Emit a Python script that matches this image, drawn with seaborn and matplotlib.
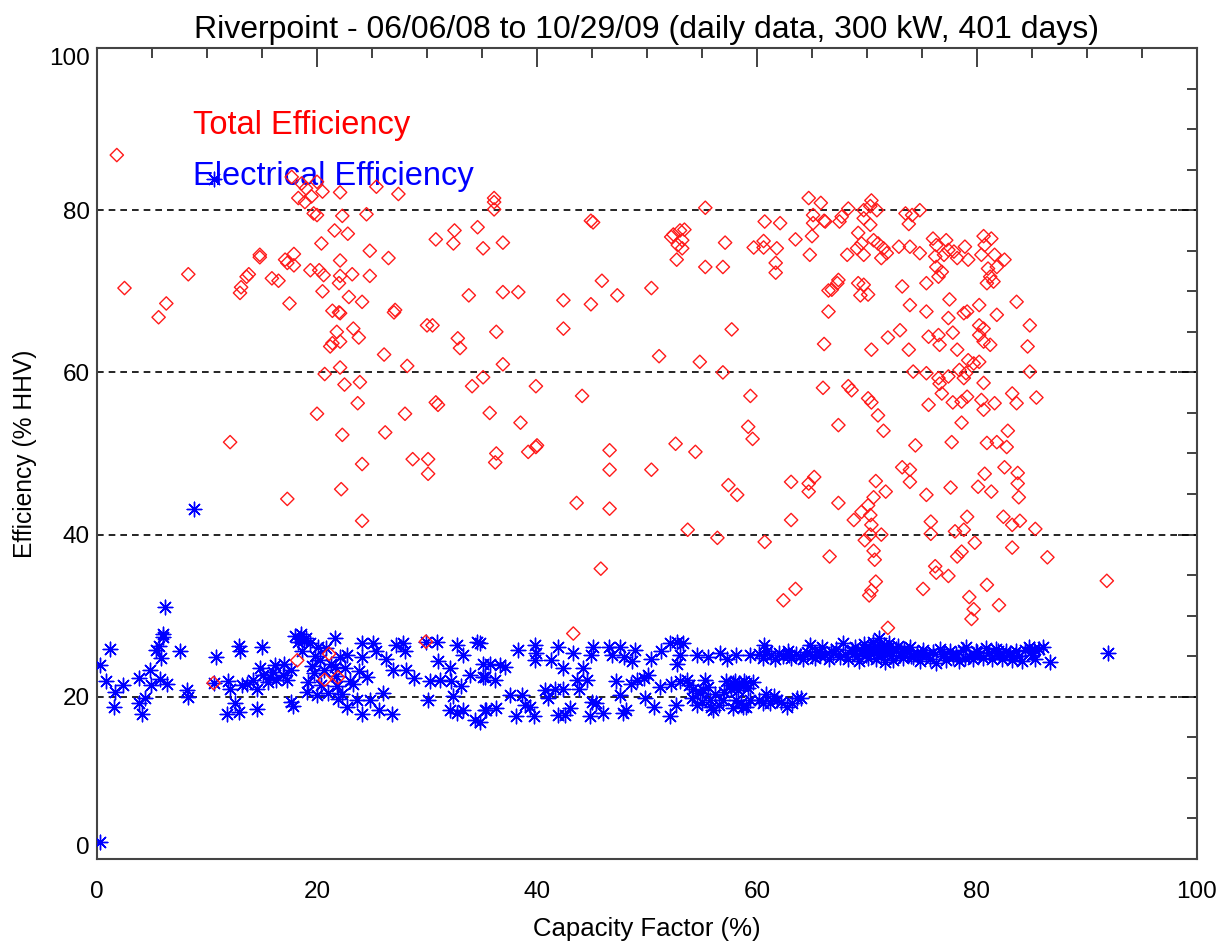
import matplotlib
matplotlib.use("Agg")
import matplotlib.pyplot as plt
import seaborn as sns
import pandas as pd
from matplotlib.ticker import MultipleLocator

# ---------------- data ----------------
total_pts = [
    (1.8, 86.8), (2.5, 70.4), (5.6, 66.8), (6.3, 68.5), (8.3, 72.1), (13.0, 69.8), (13.1, 70.5),
    (13.6, 71.8), (13.8, 72.1), (14.8, 74.5), (14.8, 74.2), (15.9, 71.6), (16.5, 71.3), (17.1, 73.9),
    (17.3, 73.5), (17.9, 74.6), (17.9, 73.2), (17.5, 68.5), (17.7, 84.1), (18.3, 81.5), (18.9, 81.0),
    (19.0, 82.7), (18.6, 83.3), (19.5, 81.7), (20.0, 83.5), (20.5, 82.3), (19.7, 79.6), (20.0, 79.4),
    (19.4, 72.6), (20.2, 72.6), (20.6, 72.0), (20.4, 75.9), (20.5, 70.0), (21.6, 77.5), (22.1, 82.2),
    (22.3, 79.3), (22.8, 77.1), (22.1, 73.8), (22.1, 71.9), (22.0, 71.0), (23.2, 72.1), (24.8, 71.9),
    (24.8, 75.0), (24.5, 79.5), (25.4, 82.9), (26.5, 74.1), (27.4, 82.0), (22.9, 69.3), (24.1, 68.7),
    (21.4, 67.6), (22.0, 67.4), (22.1, 67.3), (21.8, 65.0), (23.3, 65.4), (23.8, 64.3), (21.2, 63.2),
    (21.4, 63.6), (22.1, 63.8), (27.1, 67.7), (27.0, 67.4), (26.1, 62.2), (28.2, 60.8), (30.0, 65.8),
    (30.5, 65.8), (30.8, 76.4), (32.5, 77.5), (32.4, 75.9), (32.8, 64.2), (33.0, 63.0), (20.7, 59.8),
    (22.1, 60.6), (22.5, 58.5), (23.9, 58.8), (12.1, 51.4), (17.3, 44.4), (20.0, 54.9), (22.3, 52.3),
    (23.7, 56.2), (24.1, 48.7), (22.2, 45.6), (24.1, 41.7), (26.2, 52.6), (28.0, 54.9), (28.7, 49.3),
    (30.1, 49.3), (30.1, 47.5), (30.8, 56.3), (31.0, 56.0), (36.1, 81.5), (36.1, 81.0), (36.1, 80.1),
    (34.6, 77.9), (35.1, 75.3), (36.9, 76.0), (44.9, 78.7), (45.1, 78.5), (33.8, 69.5), (36.9, 69.9),
    (38.3, 69.9), (42.4, 68.9), (44.9, 68.4), (45.9, 71.3), (47.3, 69.5), (50.4, 70.4), (36.3, 65.0),
    (42.4, 65.4), (51.1, 62.0), (54.8, 61.3), (56.9, 60.0), (57.7, 65.3), (36.9, 61.0), (35.1, 59.4),
    (34.1, 58.3), (39.9, 58.3), (55.3, 80.3), (52.4, 77.0), (52.2, 76.7), (53.0, 77.5), (53.4, 77.6),
    (53.2, 76.3), (52.8, 75.7), (53.2, 75.3), (52.7, 73.9), (55.3, 73.0), (56.9, 73.0), (57.1, 76.0),
    (59.7, 75.4), (60.6, 76.2), (60.6, 75.4), (61.8, 75.3), (61.7, 73.5), (61.7, 72.3), (60.7, 78.6),
    (62.1, 78.4), (63.5, 76.4), (64.7, 81.5), (65.8, 80.9), (65.1, 79.4), (65.1, 78.4), (66.1, 78.7),
    (65.0, 76.8), (64.8, 74.5), (66.5, 70.1), (66.5, 67.5), (66.1, 63.5), (66.0, 58.1), (66.2, 78.6),
    (67.5, 78.6), (67.7, 79.2), (68.3, 80.2), (69.7, 80.0), (70.4, 81.2), (70.3, 80.5), (70.9, 80.0),
    (69.7, 79.0), (70.3, 78.2), (73.5, 79.6), (74.1, 79.4), (74.8, 80.0), (73.8, 78.3), (69.2, 77.2),
    (69.5, 75.9), (69.1, 75.3), (69.7, 74.5), (68.2, 74.5), (70.6, 76.3), (71.0, 75.9), (71.5, 75.3),
    (71.3, 74.1), (71.8, 74.7), (72.9, 75.5), (73.9, 75.5), (74.8, 74.7), (76.0, 76.5), (76.3, 75.7),
    (77.2, 76.3), (76.2, 74.3), (77.0, 74.5), (77.4, 75.1), (77.9, 74.9), (78.2, 74.1), (76.3, 73.0),
    (76.5, 71.8), (76.8, 72.4), (78.9, 75.5), (79.2, 73.9), (80.6, 76.8), (81.3, 76.5), (80.7, 75.7),
    (80.4, 74.5), (81.6, 74.5), (82.5, 73.9), (81.0, 72.8), (81.8, 73.0), (81.2, 71.8), (80.9, 71.0),
    (81.5, 71.2), (67.4, 71.4), (67.3, 71.0), (66.8, 70.2), (69.2, 71.0), (69.7, 70.8), (69.4, 69.5),
    (70.1, 69.6), (73.2, 70.6), (75.4, 71.0), (83.6, 68.7), (73.9, 68.3), (75.4, 67.5), (77.5, 69.0),
    (77.4, 66.7), (79.1, 67.5), (78.8, 67.3), (80.2, 68.3), (81.8, 67.1), (84.8, 65.8), (70.4, 62.8),
    (71.9, 64.3), (73.0, 65.2), (73.8, 62.8), (75.6, 64.4), (76.5, 64.6), (76.6, 63.4), (77.8, 64.9),
    (78.2, 62.8), (80.2, 65.8), (80.6, 65.4), (80.2, 64.6), (80.6, 63.8), (81.2, 63.4), (84.6, 63.2),
    (79.2, 61.5), (79.7, 61.1), (80.2, 61.3), (78.4, 60.3), (79.0, 59.9), (78.8, 59.3), (74.2, 60.1),
    (75.4, 59.9), (76.5, 59.3), (76.6, 58.6), (77.4, 59.5), (80.6, 58.7), (84.8, 60.1), (68.3, 58.3),
    (44.1, 57.1), (35.7, 55.0), (38.5, 53.8), (36.3, 50.0), (36.2, 48.9), (39.2, 50.2), (40.0, 51.0),
    (39.9, 50.8), (46.6, 50.4), (46.6, 48.0), (50.4, 48.0), (43.6, 43.9), (46.6, 43.2), (52.6, 51.2),
    (54.4, 50.2), (59.4, 57.1), (59.2, 53.3), (59.6, 51.8), (57.4, 46.1), (58.2, 44.9), (53.7, 40.6),
    (56.4, 39.6), (60.7, 39.1), (45.8, 35.8), (43.3, 27.8), (63.1, 46.5), (64.7, 46.3), (65.2, 47.1),
    (64.7, 45.3), (63.1, 41.8), (63.5, 33.3), (62.4, 31.9), (66.6, 37.3), (68.6, 57.8), (70.1, 56.8),
    (70.4, 56.3), (71.0, 54.7), (67.4, 53.5), (71.5, 52.8), (75.6, 56.0), (76.8, 57.4), (77.8, 56.3),
    (78.6, 56.4), (79.1, 57.0), (80.4, 56.6), (80.6, 55.4), (81.6, 56.2), (83.2, 57.4), (83.6, 56.2),
    (85.4, 56.9), (78.6, 53.8), (74.4, 51.0), (77.7, 51.4), (80.9, 51.3), (81.8, 51.4), (82.8, 52.8),
    (82.7, 50.8), (73.2, 48.3), (73.9, 48.0), (73.9, 46.5), (70.8, 46.6), (71.7, 45.3), (67.4, 43.9),
    (70.6, 44.6), (70.1, 43.6), (70.3, 42.4), (69.5, 42.8), (68.8, 41.8), (70.4, 41.2), (70.3, 40.0),
    (71.3, 40.0), (69.8, 39.3), (70.6, 38.0), (70.7, 36.9), (75.4, 44.9), (77.6, 45.8), (80.1, 45.9),
    (80.7, 47.5), (81.3, 45.3), (82.5, 48.3), (83.7, 47.6), (83.7, 46.3), (83.8, 44.6), (75.8, 41.6),
    (75.8, 40.1), (78.0, 40.4), (78.8, 40.6), (79.1, 42.2), (79.8, 39.0), (82.4, 42.2), (83.2, 41.2),
    (83.9, 41.7), (85.3, 40.7), (83.2, 38.4), (86.4, 37.2), (78.6, 37.9), (78.2, 37.3), (76.2, 36.1),
    (76.3, 35.3), (77.4, 34.9), (75.1, 33.3), (70.8, 34.2), (70.4, 33.1), (70.2, 32.5), (79.3, 32.3),
    (80.9, 33.8), (82.0, 31.3), (79.7, 30.8), (79.5, 29.6), (71.9, 28.5), (91.8, 34.3),
    (10.6, 21.7), (18.2, 24.5), (21.1, 25.3), (20.7, 22.1), (21.9, 22.4), (29.9, 26.8),
]

elec_pts = [
    (0.3, 2.1), (10.6, 83.8), (8.8, 43.1),
    (6.2, 31.1), (0.3, 23.9), (1.2, 25.9), (0.8, 21.9), (1.6, 20.6), (1.5, 18.7), (2.4, 21.4),
    (3.8, 22.3), (3.8, 19.2), (4.1, 17.9), (4.4, 19.8), (4.8, 23.3), (4.9, 21.5), (5.4, 25.8),
    (5.6, 26.3), (6.0, 27.8), (6.0, 27.4), (5.8, 24.8), (5.7, 22.2), (6.4, 21.6), (7.5, 25.6),
    (8.2, 20.8), (8.3, 20.0), (10.8, 24.9), (10.6, 21.7), (11.9, 22.0), (12.1, 21.0), (11.8, 17.9),
    (12.5, 19.2), (12.9, 18.1), (12.9, 26.3), (13.0, 25.6), (15.0, 26.2), (14.5, 18.5), (13.2, 21.4),
    (13.6, 21.6), (14.2, 22.1), (14.8, 23.5), (15.1, 22.7), (15.7, 22.5), (16.2, 23.9), (16.3, 22.1),
    (16.9, 22.7), (17.3, 22.1), (17.6, 23.3), (17.6, 19.4), (17.8, 18.9), (18.5, 27.8), (18.8, 27.0),
    (19.4, 26.6), (19.1, 20.6), (19.7, 22.9), (20.1, 26.2), (20.3, 24.5), (20.6, 23.3), (21.0, 20.5),
    (21.6, 27.2), (21.6, 23.7), (21.8, 21.3), (21.9, 19.7), (22.1, 24.9), (22.7, 25.2), (22.7, 18.8),
    (23.3, 21.6), (23.6, 19.6), (24.1, 26.6), (24.1, 24.9), (24.1, 17.9), (24.5, 22.5), (24.8, 19.6),
    (25.1, 26.6), (25.4, 25.6), (25.6, 18.4), (26.0, 20.5), (26.3, 24.6), (26.8, 17.9), (26.9, 23.3),
    (27.2, 26.4), (27.8, 26.6), (28.0, 25.6), (28.1, 23.3), (28.8, 22.3), (29.9, 26.8), (30.1, 19.6),
    (30.3, 21.9), (30.9, 26.8), (31.0, 24.4), (31.2, 22.1), (32.1, 23.5), (32.2, 21.9), (32.4, 20.1),
    (32.1, 18.4), (32.7, 18.0), (33.3, 18.4), (32.7, 26.4), (33.1, 21.3), (33.3, 25.2), (33.9, 22.7),
    (34.4, 17.1), (34.5, 26.8), (35.1, 24.1), (35.3, 22.5), (35.3, 18.4),
    (18.0, 27.5), (18.3, 26.8), (19.0, 27.3), (19.8, 25.0), (20.8, 26.0), (21.3, 24.0), (21.7, 22.6),
    (20.4, 21.5), (19.5, 23.8), (22.5, 23.5), (23.0, 22.0), (17.0, 24.0), (16.0, 23.0), (15.5, 21.8),
    (14.5, 21.0), (20.0, 20.2), (22.3, 20.4), (18.6, 25.6), (23.8, 23.2), (19.2, 21.8),
    (34.8, 26.6), (35.7, 24.1), (36.6, 23.9), (37.1, 23.7), (35.1, 22.5), (36.2, 22.1), (38.3, 25.8),
    (39.8, 26.4), (39.9, 25.4), (39.8, 24.5), (41.3, 24.5), (41.9, 26.2), (42.4, 23.5), (43.3, 25.4),
    (44.2, 23.5), (45.1, 26.2), (44.9, 25.2), (46.5, 26.2), (46.8, 25.2), (47.5, 26.2), (47.9, 24.9),
    (48.9, 25.8), (48.6, 24.4), (50.4, 24.6), (51.3, 25.6), (52.1, 26.6), (52.7, 26.8), (53.3, 26.6),
    (53.0, 25.2), (52.7, 24.0), (54.5, 25.2), (55.5, 24.9), (56.6, 25.4), (57.3, 24.6), (58.1, 25.2),
    (59.4, 25.2), (60.6, 26.4),
    (34.8, 16.9), (35.4, 18.4), (36.3, 18.6), (37.5, 20.2), (38.1, 17.6), (38.6, 20.2), (38.9, 19.0),
    (39.4, 18.8), (39.7, 17.6), (40.7, 20.8), (41.0, 19.8), (41.6, 21.0), (41.9, 17.7), (42.4, 21.0),
    (42.5, 17.7), (43.0, 18.6), (43.6, 22.1), (43.8, 21.0), (44.5, 22.1), (45.0, 19.4), (44.8, 17.6),
    (45.4, 19.2), (46.0, 18.0), (47.2, 21.9), (47.5, 20.2), (47.8, 18.0), (48.1, 18.4), (48.5, 21.6),
    (49.1, 22.1), (49.7, 22.3), (50.1, 22.7), (49.8, 19.8), (50.6, 18.8), (51.2, 21.2), (52.2, 21.6),
    (52.1, 17.6), (52.6, 19.0), (53.0, 21.9), (53.6, 22.1), (54.2, 21.0), (54.1, 19.8), (54.5, 19.0),
    (55.3, 22.1), (55.1, 20.8), (55.7, 19.6), (56.0, 18.4), (56.9, 19.6), (57.5, 21.5), (57.8, 21.7),
    (58.4, 21.7), (58.7, 21.3), (59.0, 21.7), (58.1, 19.6), (58.7, 18.8), (59.4, 19.6), (60.2, 19.6),
    (60.8, 20.4), (61.2, 19.2), (61.8, 19.6), (62.7, 18.8), (63.6, 19.8), (64.0, 19.8),
    (57.2, 22.0), (57.6, 21.0), (58.0, 21.9), (58.3, 20.9), (58.8, 22.0), (59.2, 21.1), (59.6, 21.8),
    (57.0, 20.6), (58.5, 19.2), (59.0, 18.7), (57.8, 18.6), (56.5, 19.0), (55.8, 18.8), (55.0, 19.4),
    (60.5, 19.2), (61.5, 20.1), (62.2, 19.4), (63.2, 19.2), (56.2, 20.3), (54.8, 20.5), (55.5, 21.2),
    (53.8, 21.5),
    (60.2, 25.3), (60.5, 24.8), (60.9, 25.6), (61.3, 25.1), (61.6, 24.7), (62.0, 25.4), (62.4, 25.0),
    (62.8, 25.6), (63.1, 24.8), (63.5, 25.3), (63.9, 25.0), (64.2, 24.6), (64.5, 25.5), (64.8, 26.4),
    (65.0, 25.0), (65.3, 24.8), (65.6, 25.6), (65.9, 26.1), (66.2, 25.1), (66.5, 24.7), (66.9, 25.4),
    (67.2, 25.9), (67.5, 24.9), (67.8, 26.6), (68.0, 25.3), (68.3, 24.6), (68.6, 25.8), (68.9, 26.2),
    (69.1, 25.0), (69.3, 24.4), (69.5, 25.6), (69.7, 26.5), (69.9, 25.2), (70.1, 24.8), (70.3, 26.0),
    (70.5, 26.8), (70.6, 25.4), (70.8, 24.6), (71.0, 25.9), (71.1, 27.2), (71.3, 25.1), (71.5, 26.4),
    (71.6, 24.3), (71.8, 25.7), (72.0, 26.6), (72.2, 25.0), (72.4, 24.5), (72.6, 25.9), (72.8, 26.3),
    (73.0, 25.2), (73.3, 24.8), (73.6, 25.6), (73.9, 26.2), (74.2, 24.9), (74.5, 25.4), (74.8, 24.4),
    (75.1, 25.8), (75.4, 25.1), (75.7, 24.6), (76.0, 25.5), (76.3, 24.2), (76.6, 25.9), (76.9, 25.0),
    (77.2, 24.5), (77.5, 25.6), (77.8, 24.9), (78.1, 25.3), (78.4, 24.4), (78.7, 25.8), (79.0, 26.1),
    (79.3, 25.0), (79.6, 24.6), (79.9, 25.7), (80.2, 25.2), (80.5, 24.8), (80.8, 26.0), (81.1, 25.4),
    (81.4, 24.7), (81.7, 25.9), (82.0, 25.2), (82.3, 24.6), (82.6, 25.6), (82.9, 25.1), (83.2, 24.5),
    (83.5, 25.7), (83.8, 25.0), (84.1, 24.4), (84.4, 25.8), (84.7, 26.1), (85.0, 25.2), (85.3, 24.6),
    (85.6, 25.9), (86.0, 26.2), (86.6, 24.3), (91.9, 25.4),
    (70.2, 25.6), (70.9, 26.1), (71.4, 25.5), (72.1, 25.7), (69.8, 25.9), (71.9, 26.0), (68.8, 25.4),
    (73.4, 25.9), (77.0, 25.3), (80.0, 25.5), (81.9, 25.6), (84.9, 25.5), (85.2, 25.9), (62.9, 25.1),
    (65.7, 25.2), (75.0, 25.3), (78.9, 24.8), (83.0, 25.4), (66.7, 25.6), (74.0, 25.0),
]

total_x = [p[0] for p in total_pts]
total_y = [p[1] for p in total_pts]
elec_x = [p[0] for p in elec_pts]
elec_y = [p[1] for p in elec_pts]

title = "Riverpoint - 06/06/08 to 10/29/09 (daily data, 300 kW, 401 days)"
xlabel = "Capacity Factor (%)"
ylabel = "Efficiency (% HHV)"
label_total = "Total Efficiency"
label_elec = "Electrical Efficiency"
grid_levels = [20, 40, 60, 80]

# ---------------- plotting ----------------
sns.set_style("white")
plt.rcParams["font.family"] = ["Liberation Sans", "DejaVu Sans"]
plt.rcParams["text.color"] = "black"
plt.rcParams["axes.labelcolor"] = "black"

fig = plt.figure(figsize=(12.22, 9.46), dpi=100)
ax = fig.add_axes([97 / 1222, (946 - 859) / 946, 1100 / 1222, (859 - 48) / 946])

for g in grid_levels:
    ax.axhline(g, color="black", lw=1.2, ls=(0, (4, 3)), zorder=1)

df_e = pd.DataFrame({"x": elec_x, "y": elec_y})
df_t = pd.DataFrame({"x": total_x, "y": total_y})

sns.scatterplot(data=df_e, x="x", y="y", ax=ax, marker=(8, 2, 0), color="#0000ff",
                s=110, linewidth=1.0, zorder=3, legend=False)
sns.scatterplot(data=df_t, x="x", y="y", ax=ax, marker="D", facecolor="none",
                edgecolor="#ff1a1a", s=46, linewidth=1.0, zorder=4, legend=False)

ax.set_xlim(0, 100)
ax.set_ylim(0, 100)
ax.xaxis.set_major_locator(MultipleLocator(20))
ax.xaxis.set_minor_locator(MultipleLocator(5))
ax.yaxis.set_major_locator(MultipleLocator(20))
ax.yaxis.set_minor_locator(MultipleLocator(5))
ax.tick_params(which="both", direction="in", top=True, right=True, colors="#333333",
               labelcolor="black", width=1.3)
ax.tick_params(which="major", length=14, labelsize=17.5)
ax.tick_params(which="minor", length=7)
ax.tick_params(axis="x", which="major", pad=16)
ax.tick_params(axis="y", which="major", pad=5)
for sp in ax.spines.values():
    sp.set_color("#444444")
    sp.set_linewidth(1.5)

ax.set_xlabel(xlabel, fontsize=18.5, labelpad=10, color="black")
ax.set_ylabel(ylabel, fontsize=17.7, labelpad=9, color="black")
ax.set_title(title, fontsize=23, pad=7, color="black")

ax.text(8.7, 90.4, label_total, color="#ff0000", fontsize=23.5, va="center", ha="left")
ax.text(8.7, 84.1, label_elec, color="#0000ff", fontsize=23.5, va="center", ha="left")

# IDL-style placement of the end labels on the y axis
fig.canvas.draw()
for tick in ax.yaxis.get_major_ticks():
    loc = tick.get_loc()
    if abs(loc - 0) < 1e-6:
        tick.label1.set_va("bottom")
    elif abs(loc - 100) < 1e-6:
        tick.label1.set_va("top")

fig.savefig("out.png", dpi=100)
